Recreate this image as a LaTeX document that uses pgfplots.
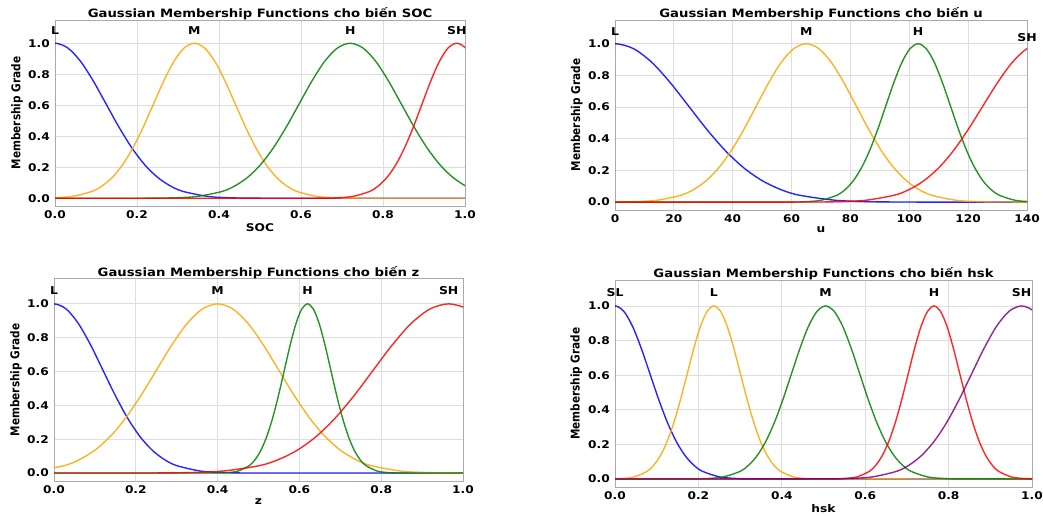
\documentclass[border=0pt]{standalone}
\usepackage{fontspec}
\setmainfont{DejaVu Sans}[FakeStretch=1.15]
\newfontfamily\ylabfont{DejaVu Sans}
\usepackage{pgfplots}
\pgfplotsset{compat=1.18}
\definecolor{mplorange}{RGB}{255,165,0}
\definecolor{mplgreen}{RGB}{0,128,0}
\definecolor{mplpurple}{RGB}{128,0,128}
\definecolor{gridgray}{RGB}{222,222,222}
\definecolor{framegray}{RGB}{170,170,170}
\pgfplotsset{mf/.style={
  scale only axis, clip mode=individual,
  axis line style={framegray, line width=0.8pt},
  grid=major, major grid style={gridgray, line width=0.8pt},
  major tick length=0pt,
  ymin=-0.05, ymax=1.15, ytick={0,0.2,0.4,0.6,0.8,1},
  tick label style={font=\fontsize{10.6}{12}\selectfont\bfseries, /pgf/number format/assume math mode=true},
  yticklabel style={/pgf/number format/fixed, /pgf/number format/fixed zerofill, /pgf/number format/precision=1, anchor=east, inner sep=0pt, xshift=-5pt},
  xticklabel style={anchor=north, inner sep=0pt, yshift=-4pt},
  every axis title shift=0pt,
  title style={font=\fontsize{11.5}{13}\selectfont\bfseries, at={(0.5,1)}, anchor=south, inner sep=0pt, yshift=-0.4pt},
  xlabel style={font=\fontsize{10.6}{12}\selectfont\bfseries, at={(axis description cs:0.5,0)}, anchor=north, inner sep=0pt, yshift=-17pt},
  ylabel style={font=\ylabfont\fontsize{10.5}{12}\selectfont\bfseries, at={(axis description cs:-0.078,0.5)}, anchor=south, inner sep=0pt, yscale=1.15},
  ylabel={Membership Grade},
  every axis plot/.append style={line width=1.4pt, opacity=0.85, smooth},
},
unitx/.style={xmin=0, xmax=1, xtick={0,0.2,0.4,0.6,0.8,1},
  xticklabel style={/pgf/number format/fixed, /pgf/number format/fixed zerofill, /pgf/number format/precision=1}}
}
\tikzset{lab/.style={font=\fontsize{10.8}{12}\selectfont\bfseries, inner sep=0pt, anchor=center}}
\begin{document}
\begin{tikzpicture}
\useasboundingbox (0,0) rectangle (1043pt,516pt);
% ---------- SOC ----------
\begin{axis}[mf, unitx, at={(55pt,310pt)}, anchor=south west, width=410pt, height=186pt,
  title={Gaussian Membership Functions cho biến SOC}, xlabel={SOC}]
\addplot[blue] coordinates {(-0.1875,0.3247) (-0.125,0.6065) (-0.0625,0.8825) (-0.03125,0.9692) (0,1) (0.03125,0.9692) (0.0625,0.8825) (0.09375,0.7548) (0.125,0.6065) (0.15625,0.4578) (0.1875,0.3247) (0.21875,0.2163) (0.25,0.1353) (0.28125,0.0796) (0.3125,0.0439) (0.375,0.0111) (0.4375,0.0022) (0.5,0.0003) (0.75,0) (1.1,0)};
\addplot[mplorange] coordinates {(-0.1,0) (-0.06,0.0003) (-0.01,0.0022) (0.04,0.0111) (0.09,0.0439) (0.115,0.0796) (0.14,0.1353) (0.165,0.2163) (0.19,0.3247) (0.215,0.4578) (0.24,0.6065) (0.265,0.7548) (0.29,0.8825) (0.315,0.9692) (0.34,1) (0.365,0.9692) (0.39,0.8825) (0.415,0.7548) (0.44,0.6065) (0.465,0.4578) (0.49,0.3247) (0.515,0.2163) (0.54,0.1353) (0.565,0.0796) (0.59,0.0439) (0.64,0.0111) (0.69,0.0022) (0.74,0.0003) (0.9,0) (1.1,0)};
\addplot[mplgreen] coordinates {(-0.1,0) (0.1,0) (0.22,0.0003) (0.2825,0.0022) (0.345,0.0111) (0.4075,0.0439) (0.43875,0.0796) (0.47,0.1353) (0.50125,0.2163) (0.5325,0.3247) (0.56375,0.4578) (0.595,0.6065) (0.62625,0.7548) (0.6575,0.8825) (0.68875,0.9692) (0.72,1) (0.75125,0.9692) (0.7825,0.8825) (0.81375,0.7548) (0.845,0.6065) (0.87625,0.4578) (0.9075,0.3247) (0.93875,0.2163) (0.97,0.1353) (1.00125,0.0796) (1.0325,0.0439)};
\addplot[red] coordinates {(-0.1,0) (0.3,0) (0.64,0.0003) (0.6825,0.0022) (0.725,0.0111) (0.7675,0.0439) (0.78875,0.0796) (0.81,0.1353) (0.83125,0.2163) (0.8525,0.3247) (0.87375,0.4578) (0.895,0.6065) (0.91625,0.7548) (0.9375,0.8825) (0.95875,0.9692) (0.98,1) (1.00125,0.9692) (1.0225,0.8825) (1.065,0.6065)};
\node[lab] at (axis cs:0,1.08) {L};
\node[lab] at (axis cs:0.34,1.08) {M};
\node[lab] at (axis cs:0.72,1.08) {H};
\node[lab] at (axis cs:0.98,1.08) {SH};
\end{axis}
% ---------- u ----------
\begin{axis}[mf, at={(615pt,306pt)}, anchor=south west, width=412pt, height=190pt,
  xmin=0, xmax=140, xtick={0,20,40,60,80,100,120,140},
  title={Gaussian Membership Functions cho biến u}, xlabel={u}]
\addplot[blue] coordinates {(-25,0.6065) (-12.5,0.8825) (-6.25,0.9692) (0,1) (6.25,0.9692) (12.5,0.8825) (18.75,0.7548) (25,0.6065) (31.25,0.4578) (37.5,0.3247) (43.75,0.2163) (50,0.1353) (56.25,0.0796) (62.5,0.0439) (75,0.0111) (87.5,0.0022) (100,0.0003) (120,0) (150,0)};
\addplot[mplorange] coordinates {(-10,0) (-3,0.0003) (5.5,0.0022) (14,0.0111) (22.5,0.0439) (26.75,0.0796) (31,0.1353) (35.25,0.2163) (39.5,0.3247) (43.75,0.4578) (48,0.6065) (52.25,0.7548) (56.5,0.8825) (60.75,0.9692) (65,1) (69.25,0.9692) (73.5,0.8825) (77.75,0.7548) (82,0.6065) (86.25,0.4578) (90.5,0.3247) (94.75,0.2163) (99,0.1353) (103.25,0.0796) (107.5,0.0439) (116,0.0111) (124.5,0.0022) (133,0.0003) (150,0)};
\addplot[mplgreen] coordinates {(-10,0) (30,0) (59,0.0003) (64.5,0.0022) (70,0.0111) (75.5,0.0439) (78.25,0.0796) (81,0.1353) (83.75,0.2163) (86.5,0.3247) (89.25,0.4578) (92,0.6065) (94.75,0.7548) (97.5,0.8825) (100.25,0.9692) (103,1) (105.75,0.9692) (108.5,0.8825) (111.25,0.7548) (114,0.6065) (116.75,0.4578) (119.5,0.3247) (122.25,0.2163) (125,0.1353) (127.75,0.0796) (130.5,0.0439) (136,0.0111) (141.5,0.0022) (147,0.0003)};
\addplot[red] coordinates {(-10,0) (30,0) (65,0.0003) (75,0.0022) (85,0.0111) (95,0.0439) (100,0.0796) (105,0.1353) (110,0.2163) (115,0.3247) (120,0.4578) (125,0.6065) (130,0.7548) (135,0.8825) (140,0.9692) (145,1) (155,0.8825)};
\node[lab] at (axis cs:0,1.08) {L};
\node[lab] at (axis cs:65,1.08) {M};
\node[lab] at (axis cs:103,1.08) {H};
\node[lab] at (axis cs:140,1.04) {SH};
\end{axis}
% ---------- z ----------
\begin{axis}[mf, unitx, at={(54pt,34.5pt)}, anchor=south west, width=409pt, height=203pt,
  title={Gaussian Membership Functions cho biến z}, xlabel={z}]
\addplot[blue] coordinates {(-0.12,0.6065) (-0.06,0.8825) (-0.03,0.9692) (0,1) (0.03,0.9692) (0.06,0.8825) (0.09,0.7548) (0.12,0.6065) (0.15,0.4578) (0.18,0.3247) (0.21,0.2163) (0.24,0.1353) (0.27,0.0796) (0.30,0.0439) (0.36,0.0111) (0.42,0.0022) (0.48,0.0003) (0.7,0) (1.1,0)};
\addplot[mplorange] coordinates {(-0.2,0.0003) (-0.125,0.0022) (-0.05,0.0111) (0.025,0.0439) (0.0625,0.0796) (0.1,0.1353) (0.1375,0.2163) (0.175,0.3247) (0.2125,0.4578) (0.25,0.6065) (0.2875,0.7548) (0.325,0.8825) (0.3625,0.9692) (0.4,1) (0.4375,0.9692) (0.475,0.8825) (0.5125,0.7548) (0.55,0.6065) (0.5875,0.4578) (0.625,0.3247) (0.6625,0.2163) (0.7,0.1353) (0.7375,0.0796) (0.775,0.0439) (0.85,0.0111) (0.925,0.0022) (1.0,0.0003) (1.1,0)};
\addplot[mplgreen] coordinates {(-0.1,0) (0.2,0) (0.392,0.0003) (0.4205,0.0022) (0.449,0.0111) (0.4775,0.0439) (0.49175,0.0796) (0.506,0.1353) (0.52025,0.2163) (0.5345,0.3247) (0.54875,0.4578) (0.563,0.6065) (0.57725,0.7548) (0.5915,0.8825) (0.60575,0.9692) (0.62,1) (0.63425,0.9692) (0.6485,0.8825) (0.66275,0.7548) (0.677,0.6065) (0.69125,0.4578) (0.7055,0.3247) (0.71975,0.2163) (0.734,0.1353) (0.74825,0.0796) (0.7625,0.0439) (0.791,0.0111) (0.8195,0.0022) (0.848,0.0003) (1.0,0) (1.1,0)};
\addplot[red] coordinates {(-0.1,0) (0.05,0) (0.225,0.0003) (0.3175,0.0022) (0.41,0.0111) (0.5025,0.0439) (0.54875,0.0796) (0.595,0.1353) (0.64125,0.2163) (0.6875,0.3247) (0.73375,0.4578) (0.78,0.6065) (0.82625,0.7548) (0.8725,0.8825) (0.91875,0.9692) (0.965,1) (1.01125,0.9692) (1.0575,0.8825)};
\node[lab] at (axis cs:0,1.08) {L};
\node[lab] at (axis cs:0.4,1.08) {M};
\node[lab] at (axis cs:0.62,1.08) {H};
\node[lab] at (axis cs:0.965,1.08) {SH};
\end{axis}
% ---------- hsk ----------
\begin{axis}[mf, unitx, at={(615pt,28.4pt)}, anchor=south west, width=417pt, height=207.6pt,
  title={Gaussian Membership Functions cho biến hsk}, xlabel={hsk}]
\addplot[blue] coordinates {(-0.084,0.6065) (-0.042,0.8825) (-0.021,0.9692) (0,1) (0.021,0.9692) (0.042,0.8825) (0.063,0.7548) (0.084,0.6065) (0.105,0.4578) (0.126,0.3247) (0.147,0.2163) (0.168,0.1353) (0.189,0.0796) (0.21,0.0439) (0.252,0.0111) (0.294,0.0022) (0.336,0.0003) (0.6,0) (1.1,0)};
\addplot[mplorange] coordinates {(-0.1,0) (-0.019,0.0003) (0.013,0.0022) (0.045,0.0111) (0.077,0.0439) (0.093,0.0796) (0.109,0.1353) (0.125,0.2163) (0.141,0.3247) (0.157,0.4578) (0.173,0.6065) (0.189,0.7548) (0.205,0.8825) (0.221,0.9692) (0.237,1) (0.253,0.9692) (0.269,0.8825) (0.285,0.7548) (0.301,0.6065) (0.317,0.4578) (0.333,0.3247) (0.349,0.2163) (0.365,0.1353) (0.381,0.0796) (0.397,0.0439) (0.429,0.0111) (0.461,0.0022) (0.493,0.0003) (0.7,0) (1.1,0)};
\addplot[mplgreen] coordinates {(-0.1,0) (0.05,0) (0.177,0.0003) (0.218,0.0022) (0.259,0.0111) (0.3,0.0439) (0.3205,0.0796) (0.341,0.1353) (0.3615,0.2163) (0.382,0.3247) (0.4025,0.4578) (0.423,0.6065) (0.4435,0.7548) (0.464,0.8825) (0.4845,0.9692) (0.505,1) (0.5255,0.9692) (0.546,0.8825) (0.5665,0.7548) (0.587,0.6065) (0.6075,0.4578) (0.628,0.3247) (0.6485,0.2163) (0.669,0.1353) (0.6895,0.0796) (0.71,0.0439) (0.751,0.0111) (0.792,0.0022) (0.833,0.0003) (0.95,0) (1.1,0)};
\addplot[red] coordinates {(-0.1,0) (0.3,0) (0.517,0.0003) (0.548,0.0022) (0.579,0.0111) (0.61,0.0439) (0.6255,0.0796) (0.641,0.1353) (0.6565,0.2163) (0.672,0.3247) (0.6875,0.4578) (0.703,0.6065) (0.7185,0.7548) (0.734,0.8825) (0.7495,0.9692) (0.765,1) (0.7805,0.9692) (0.796,0.8825) (0.8115,0.7548) (0.827,0.6065) (0.8425,0.4578) (0.858,0.3247) (0.8735,0.2163) (0.889,0.1353) (0.9045,0.0796) (0.92,0.0439) (0.951,0.0111) (0.982,0.0022) (1.013,0.0003) (1.1,0)};
\addplot[mplpurple] coordinates {(-0.1,0) (0.25,0) (0.495,0.0003) (0.555,0.0022) (0.615,0.0111) (0.675,0.0439) (0.705,0.0796) (0.735,0.1353) (0.765,0.2163) (0.795,0.3247) (0.825,0.4578) (0.855,0.6065) (0.885,0.7548) (0.915,0.8825) (0.945,0.9692) (0.975,1) (1.005,0.9692) (1.035,0.8825)};
\node[lab] at (axis cs:0,1.08) {SL};
\node[lab] at (axis cs:0.237,1.08) {L};
\node[lab] at (axis cs:0.505,1.08) {M};
\node[lab] at (axis cs:0.765,1.08) {H};
\node[lab] at (axis cs:0.975,1.08) {SH};
\end{axis}
\end{tikzpicture}
\end{document}
